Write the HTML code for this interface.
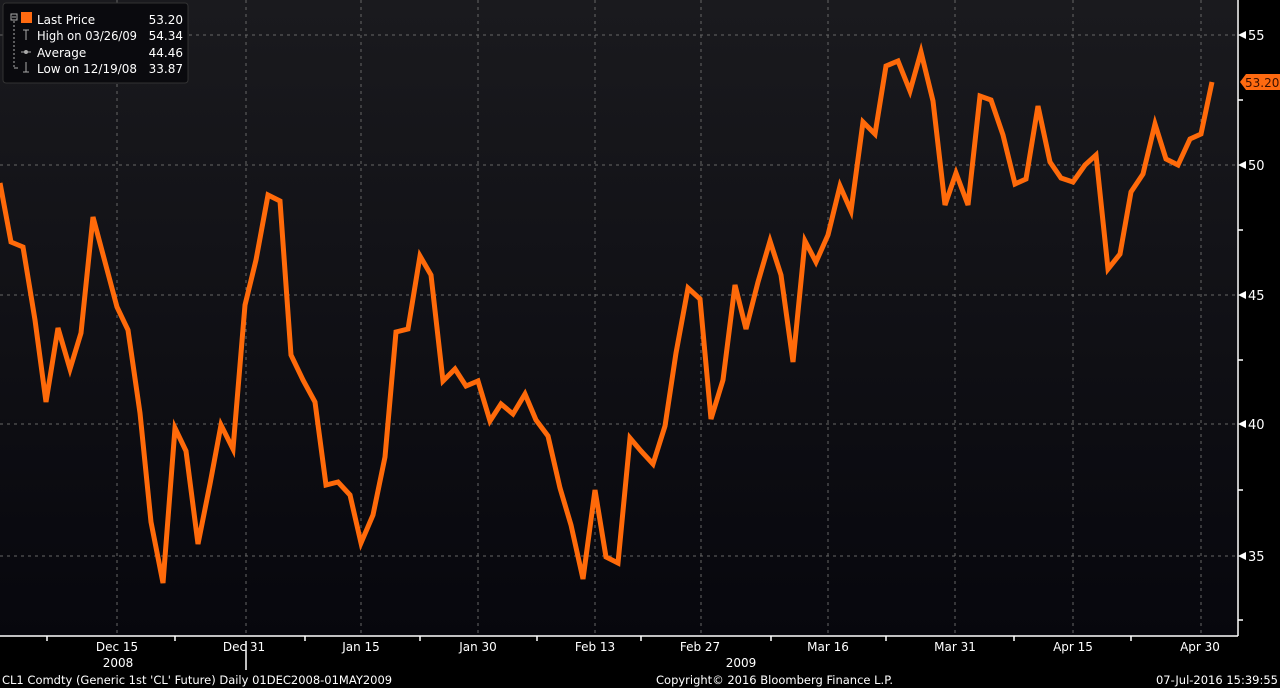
<!DOCTYPE html>
<html><head><meta charset="utf-8"><style>
html,body{margin:0;padding:0;background:#000;width:1280px;height:688px;overflow:hidden}
svg{display:block}
text{font-family:"DejaVu Sans","Liberation Sans",sans-serif;fill:#fff}
</style></head><body>
<svg width="1280" height="688" viewBox="0 0 1280 688">
<defs><linearGradient id="bg" x1="0" y1="0" x2="0" y2="1"><stop offset="0" stop-color="#1a1a1e"/><stop offset="1" stop-color="#07070d"/></linearGradient></defs>
<rect x="0" y="0" width="1280" height="688" fill="#000"/>
<rect x="0" y="0" width="1237" height="636" fill="url(#bg)"/>
<g stroke="#666" stroke-width="1" stroke-dasharray="3,4" fill="none">
<line x1="0" y1="35" x2="1237" y2="35"/><line x1="0" y1="165" x2="1237" y2="165"/><line x1="0" y1="295" x2="1237" y2="295"/><line x1="0" y1="424" x2="1237" y2="424"/><line x1="0" y1="556" x2="1237" y2="556"/>
<line x1="117" y1="0" x2="117" y2="636"/><line x1="246" y1="0" x2="246" y2="636"/><line x1="361" y1="0" x2="361" y2="636"/><line x1="478" y1="0" x2="478" y2="636"/><line x1="595" y1="0" x2="595" y2="636"/><line x1="701" y1="0" x2="701" y2="636"/><line x1="828" y1="0" x2="828" y2="636"/><line x1="955" y1="0" x2="955" y2="636"/><line x1="1073" y1="0" x2="1073" y2="636"/><line x1="1201" y1="0" x2="1201" y2="636"/>
</g>
<g stroke="#fff" stroke-width="1.5" fill="none">
<line x1="0" y1="636" x2="1238" y2="636"/><line x1="1238" y1="0" x2="1238" y2="636"/>
<line x1="47" y1="636" x2="47" y2="641"/><line x1="175" y1="636" x2="175" y2="641"/><line x1="305" y1="636" x2="305" y2="641"/><line x1="420" y1="636" x2="420" y2="641"/><line x1="537" y1="636" x2="537" y2="641"/><line x1="641" y1="636" x2="641" y2="641"/><line x1="771" y1="636" x2="771" y2="641"/><line x1="886" y1="636" x2="886" y2="641"/><line x1="1014" y1="636" x2="1014" y2="641"/><line x1="1131" y1="636" x2="1131" y2="641"/>
<line x1="1238" y1="100" x2="1243" y2="100"/><line x1="1238" y1="230" x2="1243" y2="230"/><line x1="1238" y1="360" x2="1243" y2="360"/><line x1="1238" y1="490" x2="1243" y2="490"/><line x1="1238" y1="620" x2="1243" y2="620"/>
<line x1="246" y1="641" x2="246" y2="670"/>
</g>
<g fill="#fff">
<polygon points="1238,35 1246,31 1246,39"/><polygon points="1238,165 1246,161 1246,169"/><polygon points="1238,295 1246,291 1246,299"/><polygon points="1238,424 1246,420 1246,428"/><polygon points="1238,556 1246,552 1246,560"/>
</g>
<g font-size="13">
<text x="1248" y="40">55</text><text x="1248" y="170">50</text><text x="1248" y="300">45</text><text x="1248" y="429">40</text><text x="1248" y="561">35</text>
</g>
<polygon points="1240,82 1246,74 1280,74 1280,90 1246,90" fill="#ff6a10"/>
<text x="1245" y="87" font-size="12" style="fill:#3a1000">53.20</text>
<polyline fill="none" stroke="#ff6a0a" stroke-width="5" stroke-linejoin="miter" points="0,183 11,242 23,247 35,320 46,402 58,328 70,369 81,333 93,217 105,262 117,307 128,330 140,413 151,522 163,583 175,428 186,451 198,544 210,484 221,425 233,449 245,305 256,260 268,195 280,201 291,355 303,380 315,402 326,485 338,482 350,495 361,543 373,515 385,457 396,332 408,329 420,256 431,275 443,381 455,369 466,386 478,381 490,421 501,404 513,414 525,394 536,420 548,436 560,488 571,525 583,579 595,490 606,557 618,563 630,438 641,451 653,464 665,426 676,353 688,288 700,299 711,419 723,380 735,285 746,329 758,282 770,241 781,275 793,362 805,241 816,262 828,235 840,186 851,211 863,122 875,134 886,66 898,61 910,91 921,52 933,101 945,205 956,173 968,205 980,96 991,100 1003,135 1015,184 1026,179 1038,106 1050,162 1061,178 1073,182 1085,165 1096,155 1108,269 1120,254 1131,192 1143,174 1155,124 1166,159 1178,165 1190,139 1201,134 1212,82"/>
<g font-size="12" text-anchor="middle">
<text x="117" y="651">Dec 15</text><text x="244" y="651">Dec 31</text><text x="361" y="651">Jan 15</text><text x="478" y="651">Jan 30</text><text x="595" y="651">Feb 13</text><text x="700" y="651">Feb 27</text><text x="828" y="651">Mar 16</text><text x="955" y="651">Mar 31</text><text x="1073" y="651">Apr 15</text><text x="1200" y="651">Apr 30</text>
<text x="118" y="667">2008</text><text x="741" y="667">2009</text>
</g>
<g font-size="11.5">
<text x="2" y="684">CL1 Comdty (Generic 1st 'CL' Future)  Daily 01DEC2008-01MAY2009</text>
<text x="656" y="684">Copyright© 2016 Bloomberg Finance L.P.</text>
<text x="1278" y="684" text-anchor="end">07-Jul-2016 15:39:55</text>
</g>
<rect x="3" y="3" width="185" height="80" rx="3" fill="#0a0a0e" stroke="#333" stroke-width="1"/>
<g stroke="#aaa" stroke-width="1" fill="none">
<rect x="11" y="14" width="6" height="6"/><line x1="12" y1="17" x2="16" y2="17"/>
<line x1="14" y1="21" x2="14" y2="68" stroke-dasharray="2,2"/><line x1="14" y1="68" x2="18" y2="68"/>
<line x1="23" y1="30" x2="29" y2="30"/><line x1="26" y1="30" x2="26" y2="40"/>
<line x1="21" y1="52" x2="31" y2="52"/><circle cx="26" cy="52" r="1.5" fill="#aaa"/>
<line x1="26" y1="62" x2="26" y2="72"/><line x1="23" y1="72" x2="29" y2="72"/>
</g>
<rect x="21" y="12" width="11" height="11" fill="#ff6a10"/>
<g font-size="12">
<text x="37" y="24">Last Price</text><text x="183" y="24" text-anchor="end">53.20</text>
<text x="37" y="40" textLength="100" lengthAdjust="spacingAndGlyphs">High on 03/26/09</text><text x="183" y="40" text-anchor="end">54.34</text>
<text x="37" y="57">Average</text><text x="183" y="57" text-anchor="end">44.46</text>
<text x="37" y="73" textLength="100" lengthAdjust="spacingAndGlyphs">Low on 12/19/08</text><text x="183" y="73" text-anchor="end">33.87</text>
</g>
</svg>
</body></html>
